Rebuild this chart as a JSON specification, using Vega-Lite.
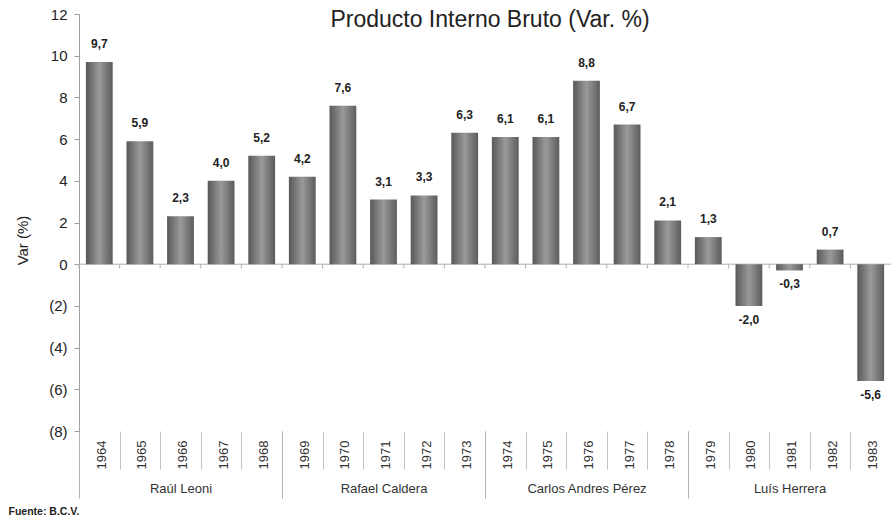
{
  "$schema": "https://vega.github.io/schema/vega-lite/v6.json",
  "width": 812,
  "height": 417,
  "autosize": "none",
  "padding": {"left": 79, "top": 14, "right": 0, "bottom": 87},
  "background": "white",
  "title": {
    "text": "Producto Interno Bruto (Var. %)",
    "font": "Liberation Sans",
    "fontSize": 23,
    "fontWeight": "normal",
    "color": "#222222",
    "anchor": "middle",
    "frame": "group",
    "offset": -25,
    "dx": 5
  },
  "datasets": {
    "gdp": [
      {"year": "1964", "v": 9.7},
      {"year": "1965", "v": 5.9},
      {"year": "1966", "v": 2.3},
      {"year": "1967", "v": 4.0},
      {"year": "1968", "v": 5.2},
      {"year": "1969", "v": 4.2},
      {"year": "1970", "v": 7.6},
      {"year": "1971", "v": 3.1},
      {"year": "1972", "v": 3.3},
      {"year": "1973", "v": 6.3},
      {"year": "1974", "v": 6.1},
      {"year": "1975", "v": 6.1},
      {"year": "1976", "v": 8.8},
      {"year": "1977", "v": 6.7},
      {"year": "1978", "v": 2.1},
      {"year": "1979", "v": 1.3},
      {"year": "1980", "v": -2.0},
      {"year": "1981", "v": -0.3},
      {"year": "1982", "v": 0.7},
      {"year": "1983", "v": -5.6}
    ],
    "pres": [
      {"pres": "Raúl Leoni"},
      {"pres": "Rafael Caldera"},
      {"pres": "Carlos Andres Pérez"},
      {"pres": "Luís Herrera"}
    ]
  },
  "layer": [
    {
      "data": {"name": "gdp"},
      "layer": [
        {
          "data": {"values": [{"z": 0}]},
          "mark": {"type": "rule", "color": "#b0b0b0", "strokeWidth": 1},
          "encoding": {
            "y": {"field": "z", "type": "quantitative", "scale": {"domain": [-8, 12], "nice": false}}
          }
        },
        {
          "mark": {"type": "rule", "color": "#b0b0b0", "strokeWidth": 1},
          "encoding": {
            "x": {
              "field": "year",
              "type": "ordinal",
              "bandPosition": 0,
              "title": null,
              "scale": {"paddingInner": 0, "paddingOuter": 0},
              "axis": {
                "orient": "bottom",
                "domain": false,
                "tickBand": "extent",
                "tickSize": 38,
                "tickColor": "#c4c4c4",
                "labelAngle": 270,
                "labelPadding": -29,
                "labelFont": "Liberation Sans",
                "labelFontSize": 13,
                "labelColor": "#333333",
                "labelOffset": 2
              }
            },
            "y": {"datum": 0, "type": "quantitative"},
            "y2": {"datum": -0.2}
          }
        },
        {
          "mark": {
            "type": "bar",
            "width": {"band": 0.66},
            "fill": {
              "gradient": "linear",
              "x1": 0, "x2": 1, "y1": 0, "y2": 0,
              "stops": [
                {"offset": 0, "color": "#585858"},
                {"offset": 0.5, "color": "#9a9a9a"},
                {"offset": 1, "color": "#5c5c5c"}
              ]
            }
          },
          "encoding": {
            "x": {"field": "year", "type": "ordinal", "title": null},
            "y": {
              "field": "v",
              "type": "quantitative",
              "title": "Var (%)",
              "scale": {"domain": [-8, 12], "nice": false},
              "axis": {
                "values": [-8, -6, -4, -2, 0, 2, 4, 6, 8, 10, 12],
                "labelExpr": "datum.value < 0 ? '(' + (-datum.value) + ')' : datum.value + '\u2007'",
                "grid": false,
                "domainColor": "#a0a0a0",
                "tickColor": "#a0a0a0",
                "tickSize": 5,
                "labelPadding": 7,
                "labelFont": "Liberation Sans",
                "labelFontSize": 15,
                "labelColor": "#222222",
                "titleFont": "Liberation Sans",
                "titleFontSize": 15,
                "titleFontWeight": "normal",
                "titleColor": "#222222",
                "titleX": -57,
                "titleY": 226,
                "titleAlign": "center",
                "titleBaseline": "middle"
              }
            }
          }
        },
        {
          "transform": [{"filter": "datum.v >= 0"}],
          "mark": {"type": "text", "font": "Liberation Sans", "fontSize": 12, "fontWeight": "bold", "color": "#222222", "baseline": "middle", "dy": -18},
          "encoding": {
            "x": {"field": "year", "type": "ordinal", "title": null},
            "y": {"field": "v", "type": "quantitative"},
            "text": {"field": "v", "type": "quantitative", "format": ".1f"}
          }
        },
        {
          "transform": [{"filter": "datum.v < 0"}],
          "mark": {"type": "text", "font": "Liberation Sans", "fontSize": 12, "fontWeight": "bold", "color": "#222222", "baseline": "middle", "dy": 14},
          "encoding": {
            "x": {"field": "year", "type": "ordinal", "title": null},
            "y": {"field": "v", "type": "quantitative"},
            "text": {"field": "v", "type": "quantitative", "format": ".1f"}
          }
        }
      ]
    },
    {
      "data": {"name": "pres"},
      "mark": {"type": "point", "opacity": 0},
      "encoding": {
        "x": {
          "field": "pres",
          "type": "nominal",
          "title": "Fuente: B.C.V.",
          "scale": {"domain": ["Raúl Leoni", "Rafael Caldera", "Carlos Andres Pérez", "Luís Herrera"], "paddingInner": 0, "paddingOuter": 0},
          "axis": {
            "orient": "bottom",
            "domain": false,
            "tickBand": "extent",
            "tickSize": 67,
            "tickColor": "#b4b4b4",
            "labelAngle": 0,
            "labelPadding": -16,
            "labelFont": "Liberation Sans",
            "labelFontSize": 13,
            "labelColor": "#333333",
            "titleFont": "Liberation Sans",
            "titleFontSize": 10.5,
            "titleFontWeight": "bold",
            "titleColor": "#222222",
            "titleX": -71,
            "titleY": 80,
            "titleAlign": "left",
            "titleBaseline": "middle",
            "titleAngle": 0
          }
        }
      }
    }
  ],
  "resolve": {"scale": {"x": "independent"}, "axis": {"x": "independent"}},
  "config": {
    "view": {"stroke": null},
    "locale": {
      "number": {"decimal": ",", "thousands": ".", "grouping": [3], "currency": ["", ""], "minus": "-"}
    }
  }
}
